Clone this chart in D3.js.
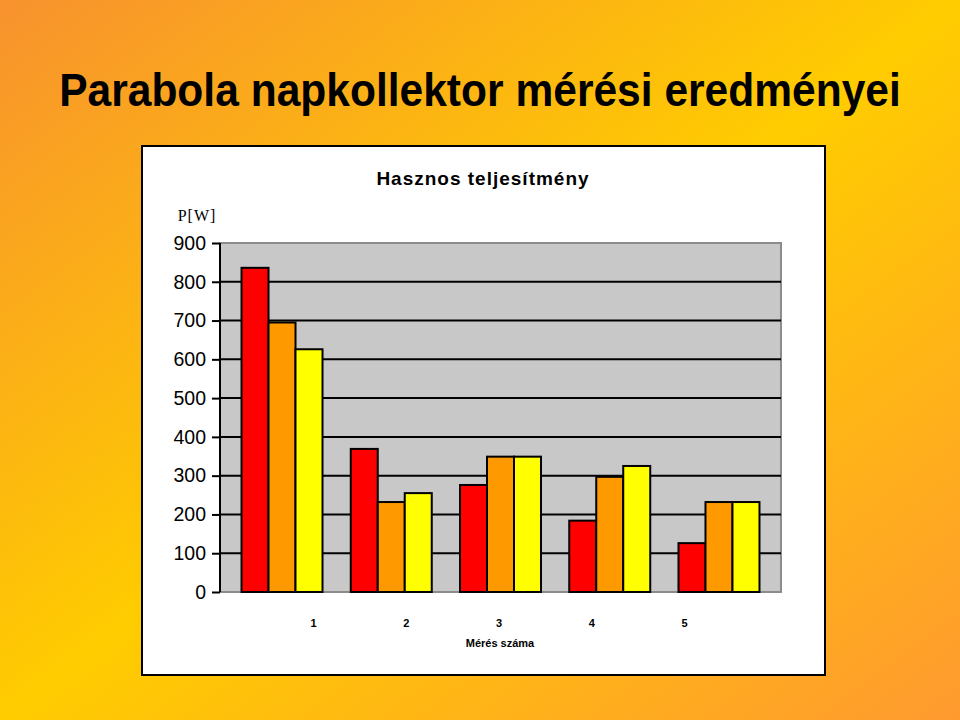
<!DOCTYPE html>
<html>
<head>
<meta charset="utf-8">
<script src="https://cdn.jsdelivr.net/npm/d3@7"></script>
<style>
  html, body { margin: 0; padding: 0; }
  svg { display: block; }
</style>
</head>
<body>
<div id="chart"></div>
<script>
// Measurement data
const measurements = ["1", "2", "3", "4", "5"];
const seriesNames = ["a", "b", "c"];
const seriesColors = ["#FF0000", "#FF9900", "#FFFF00"];
const valuesA = [836, 369, 276, 184, 126];
const valuesB = [695, 232, 349, 297, 232];
const valuesC = [626, 255, 349, 325, 232];
const yTicks = [0, 100, 200, 300, 400, 500, 600, 700, 800, 900];

const mainTitle = "Parabola napkollektor mérési eredményei";
const chartTitle = "Hasznos teljesítmény";
const yLabel = "P[W]";
const xLabel = "Mérés száma";

const width = 960, height = 720;
const plot = {left: 220, right: 781, top: 243, bottom: 592};

const svg = d3.select("#chart").append("svg")
    .attr("width", width)
    .attr("height", height);

// Background gradient
const defs = svg.append("defs");
const grad = defs.append("linearGradient")
    .attr("id", "bg")
    .attr("x1", "0").attr("y1", "0")
    .attr("x2", "1").attr("y2", "1");
grad.append("stop").attr("offset", "0").attr("stop-color", "#F8922E");
grad.append("stop").attr("offset", "0.5").attr("stop-color", "#FFCC00");
grad.append("stop").attr("offset", "1").attr("stop-color", "#FF9A30");

svg.append("rect")
    .attr("width", width).attr("height", height)
    .attr("fill", "url(#bg)");

// Main title, slightly condensed like the slide font
svg.append("g")
    .attr("transform", "translate(480,106) scale(0.925,1)")
    .append("text")
    .attr("text-anchor", "middle")
    .attr("font-family", "Liberation Sans, Arial, sans-serif")
    .attr("font-weight", "bold")
    .attr("font-size", 46)
    .text(mainTitle);

// White chart box
svg.append("rect")
    .attr("x", 142).attr("y", 146)
    .attr("width", 683).attr("height", 529)
    .attr("fill", "#FFFFFF")
    .attr("stroke", "#000")
    .attr("stroke-width", 2);

svg.append("text")
    .attr("x", 483).attr("y", 185)
    .attr("text-anchor", "middle")
    .attr("font-family", "Liberation Sans, Arial, sans-serif")
    .attr("font-weight", "bold")
    .attr("font-size", 19)
    .attr("letter-spacing", 1)
    .text(chartTitle);

// Scales
const x = d3.scaleBand()
    .domain(measurements)
    .range([plot.left, plot.right])
    .paddingInner(0.2586)
    .paddingOuter(0.197);

const xSub = d3.scaleBand()
    .domain(seriesNames)
    .range([0, x.bandwidth()]);

const xLabelScale = d3.scalePoint()
    .domain(measurements)
    .range([313, 684]);

const y = d3.scaleLinear()
    .domain([0, 900])
    .range([plot.bottom, plot.top]);

// Plot area
svg.append("rect")
    .attr("x", plot.left).attr("y", plot.top)
    .attr("width", plot.right - plot.left)
    .attr("height", plot.bottom - plot.top)
    .attr("fill", "#C8C8C8")
    .attr("stroke", "#8C8C8C")
    .attr("stroke-width", 2);

// Gridlines
svg.append("g")
    .selectAll("line")
    .data(yTicks.filter(d => d > 0 && d < 900))
    .join("line")
    .attr("x1", plot.left).attr("x2", plot.right)
    .attr("y1", d => y(d)).attr("y2", d => y(d))
    .attr("stroke", "#000")
    .attr("stroke-width", 2);

// Bars
const seriesValues = [valuesA, valuesB, valuesC];
const barData = [];
measurements.forEach((m, i) => {
    seriesNames.forEach((s, j) => {
        barData.push({m: m, s: s, color: seriesColors[j], value: seriesValues[j][i]});
    });
});

svg.append("g")
    .selectAll("rect")
    .data(barData)
    .join("rect")
    .attr("x", d => x(d.m) + xSub(d.s))
    .attr("y", d => y(d.value))
    .attr("width", xSub.bandwidth())
    .attr("height", d => y(0) - y(d.value))
    .attr("fill", d => d.color)
    .attr("stroke", "#000")
    .attr("stroke-width", 2);

// Y axis
const yAxis = svg.append("g")
    .attr("transform", `translate(${plot.left},0)`)
    .call(d3.axisLeft(y).tickValues(yTicks).tickSize(8).tickPadding(6));
yAxis.select(".domain").attr("stroke", "#000").attr("stroke-width", 2).attr("d", `M0,${plot.top}V${plot.bottom}`);
yAxis.selectAll(".tick line").attr("stroke", "#000").attr("stroke-width", 2);
yAxis.selectAll(".tick text")
    .attr("font-family", "Liberation Sans, Arial, sans-serif")
    .attr("font-size", 19.5)
    .attr("fill", "#000");

svg.append("text")
    .attr("x", 197).attr("y", 221)
    .attr("text-anchor", "middle")
    .attr("font-family", "Liberation Serif, Times New Roman, serif")
    .attr("font-size", 16)
    .attr("letter-spacing", 1)
    .text(yLabel);

// X axis labels
const xAxis = svg.append("g")
    .attr("transform", `translate(0,${plot.bottom})`)
    .call(d3.axisBottom(xLabelScale).tickSize(0).tickPadding(27));
xAxis.select(".domain").remove();
xAxis.selectAll(".tick text")
    .attr("font-family", "Liberation Sans, Arial, sans-serif")
    .attr("font-weight", "bold")
    .attr("font-size", 11)
    .attr("fill", "#000");

svg.append("text")
    .attr("x", 500).attr("y", 647)
    .attr("text-anchor", "middle")
    .attr("font-family", "Liberation Sans, Arial, sans-serif")
    .attr("font-weight", "bold")
    .attr("font-size", 11)
    .text(xLabel);
</script>
</body>
</html>
